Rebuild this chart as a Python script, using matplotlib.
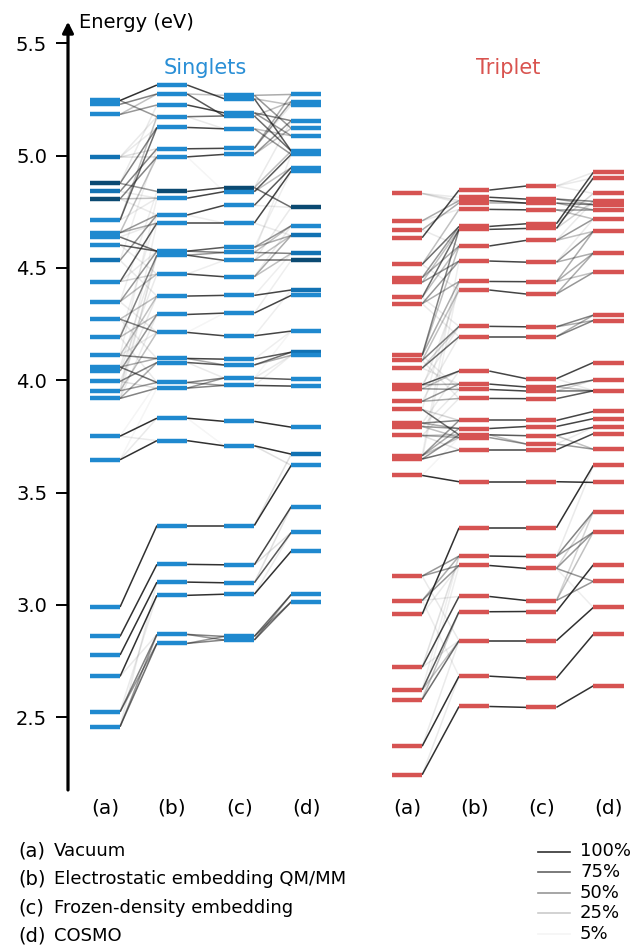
import matplotlib
matplotlib.use('Agg')
import matplotlib.pyplot as plt
from matplotlib.lines import Line2D

plt.rcParams['font.family'] = ['DejaVu Sans']

# ---------------- data ----------------
COLUMN_LABELS = ['(a)', '(b)', '(c)', '(d)']
METHOD_KEYS = ['(a)', '(b)', '(c)', '(d)']
METHOD_NAMES = ['Vacuum', 'Electrostatic embedding QM/MM',
                'Frozen-density embedding', 'COSMO']
WEIGHT_VALUES = [1.0, 0.75, 0.5, 0.25, 0.05]
WEIGHT_LABELS = ['100%', '75%', '50%', '25%', '5%']
Y_TICKS = [2.5, 3.0, 3.5, 4.0, 4.5, 5.0, 5.5]

# Singlet excitation energies (eV) per environment
S_A = [5.246, 5.229, 5.184, 4.994, 4.877, 4.841, 4.808, 4.713, 4.657, 4.638,
       4.602, 4.534, 4.439, 4.350, 4.272, 4.192, 4.111, 4.059, 4.041, 3.995,
       3.953, 3.919, 3.751, 3.646, 2.990, 2.859, 2.776, 2.681, 2.523, 2.457]
S_B = [5.315, 5.275, 5.226, 5.174, 5.126, 5.031, 4.995, 4.841, 4.811, 4.736,
       4.700, 4.575, 4.557, 4.473, 4.375, 4.293, 4.213, 4.097, 4.079, 3.990,
       3.965, 3.831, 3.731, 3.353, 3.180, 3.101, 3.042, 2.868, 2.828]
S_C = [5.269, 5.254, 5.191, 5.177, 5.120, 5.033, 5.006, 4.858, 4.840, 4.779,
       4.700, 4.592, 4.569, 4.534, 4.461, 4.378, 4.299, 4.198, 4.094, 4.068,
       4.010, 3.977, 3.817, 3.708, 3.353, 3.178, 3.098, 3.047, 2.859, 2.843]
S_D = [5.273, 5.241, 5.226, 5.156, 5.122, 5.089, 5.021, 5.006, 4.947, 4.932,
       4.770, 4.688, 4.645, 4.565, 4.534, 4.402, 4.378, 4.219, 4.125, 4.111,
       4.004, 3.974, 3.791, 3.671, 3.621, 3.437, 3.322, 3.239, 3.046, 3.013]

# Triplet excitation energies (eV) per environment
T_A = [4.832, 4.710, 4.670, 4.635, 4.516, 4.457, 4.436, 4.369, 4.341, 4.111,
       4.088, 4.054, 3.980, 3.962, 3.906, 3.870, 3.809, 3.794, 3.754, 3.664,
       3.649, 3.576, 3.128, 3.019, 2.958, 2.722, 2.621, 2.578, 2.370, 2.243]
T_B = [4.847, 4.815, 4.800, 4.790, 4.761, 4.685, 4.672, 4.598, 4.531, 4.440,
       4.402, 4.240, 4.194, 4.041, 3.983, 3.959, 3.919, 3.821, 3.785, 3.757,
       3.745, 3.690, 3.548, 3.343, 3.217, 3.175, 3.037, 2.969, 2.840, 2.682,
       2.547]
T_C = [4.865, 4.807, 4.789, 4.759, 4.697, 4.676, 4.623, 4.526, 4.439, 4.384,
       4.238, 4.194, 4.007, 3.970, 3.952, 3.918, 3.821, 3.794, 3.753, 3.716,
       3.690, 3.548, 3.343, 3.215, 3.162, 3.019, 2.970, 2.840, 2.673, 2.543]
T_D = [4.926, 4.901, 4.832, 4.797, 4.782, 4.759, 4.718, 4.663, 4.566, 4.480,
       4.290, 4.266, 4.079, 4.001, 3.953, 3.861, 3.829, 3.791, 3.762, 3.693,
       3.621, 3.545, 3.414, 3.324, 3.178, 3.104, 2.988, 2.868, 2.639]

# highlighted singlet states: (column index, energy)
S_NAVY = [(0, 4.877), (0, 4.808), (1, 4.841), (2, 4.858), (3, 4.770), (3, 4.534)]
S_MIDBLUE = [(0, 4.841), (0, 4.994), (0, 4.534), (3, 4.402), (3, 4.645),
             (3, 4.565), (3, 4.125), (3, 3.671)]

# state correspondences between neighbouring environments: (E_from, E_to, overlap)
S_AB = [(5.246, 5.315, 1.0), (5.246, 5.174, 0.5), (5.229, 5.275, 0.6),
        (5.184, 5.226, 0.5), (5.184, 5.275, 0.3), (4.994, 5.031, 0.15),
        (4.994, 4.995, 0.15), (4.877, 5.126, 0.6), (4.877, 4.841, 0.5),
        (4.841, 5.031, 0.6), (4.808, 4.995, 0.6), (4.808, 4.811, 0.3),
        (4.713, 5.126, 0.7), (4.713, 5.174, 0.3), (4.657, 4.736, 0.5),
        (4.657, 4.700, 0.4), (4.657, 4.995, 0.3), (4.638, 4.575, 0.7),
        (4.602, 4.575, 0.8), (4.534, 4.736, 0.5), (4.439, 4.700, 0.8),
        (4.439, 4.473, 0.2), (4.350, 4.575, 0.5), (4.350, 4.473, 0.3),
        (4.272, 4.213, 0.6), (4.272, 4.375, 0.3), (4.192, 4.557, 0.6),
        (4.192, 4.293, 0.3), (4.111, 4.097, 0.6), (4.111, 4.375, 0.3),
        (4.059, 3.990, 0.7), (4.059, 4.097, 0.4), (4.041, 4.293, 0.5),
        (3.995, 4.079, 0.6), (3.953, 3.990, 0.5), (3.953, 4.213, 0.3),
        (3.919, 3.965, 0.6), (3.919, 4.079, 0.4),
        (4.994, 5.174, 0.1), (4.994, 5.126, 0.1), (4.877, 5.226, 0.1),
        (4.841, 4.811, 0.1), (4.808, 4.736, 0.1), (4.713, 4.811, 0.1),
        (4.638, 4.700, 0.1), (4.602, 4.473, 0.1), (4.534, 4.375, 0.1),
        (4.439, 4.575, 0.1), (4.350, 4.213, 0.1), (4.272, 4.097, 0.1),
        (4.192, 3.990, 0.1), (4.111, 4.213, 0.1), (4.059, 4.557, 0.1),
        (4.041, 4.473, 0.1), (3.995, 4.375, 0.1), (3.953, 4.557, 0.1),
        (3.919, 4.293, 0.1), (3.995, 3.965, 0.15), (4.534, 5.031, 0.08),
        (4.350, 4.841, 0.08), (4.192, 4.736, 0.08), (3.919, 4.575, 0.08),
        (3.953, 4.700, 0.08), (4.111, 4.811, 0.08), (3.751, 3.990, 0.05),
        (3.646, 3.965, 0.05),
        (3.751, 3.831, 1.0), (3.751, 3.731, 0.1), (3.646, 3.731, 1.0),
        (3.646, 3.831, 0.1), (2.990, 3.353, 1.0), (2.859, 3.180, 1.0),
        (2.776, 3.101, 1.0), (2.681, 3.042, 1.0), (2.681, 2.868, 0.1),
        (2.523, 2.868, 0.6), (2.523, 2.828, 0.5), (2.523, 3.042, 0.1),
        (2.457, 2.828, 0.7), (2.457, 2.868, 0.5), (2.457, 3.101, 0.1)]
S_BC = [(5.315, 5.254, 0.9), (5.275, 5.177, 0.8), (5.275, 5.269, 0.3),
        (5.226, 5.191, 0.9), (5.174, 5.177, 0.7), (5.126, 5.120, 0.9),
        (5.031, 5.033, 0.9), (4.995, 5.006, 0.9), (4.841, 4.858, 0.9),
        (4.811, 4.840, 0.9), (4.736, 4.779, 0.9), (4.700, 4.700, 0.9),
        (4.575, 4.592, 0.8), (4.575, 4.569, 0.6), (4.557, 4.534, 0.8),
        (4.557, 4.569, 0.5), (4.473, 4.461, 0.9), (4.375, 4.378, 0.9),
        (4.293, 4.299, 0.9), (4.213, 4.198, 0.9), (4.097, 4.094, 0.9),
        (4.097, 4.068, 0.4), (4.079, 4.068, 0.8), (3.990, 4.010, 0.6),
        (3.990, 3.977, 0.5), (3.965, 4.010, 0.5), (3.965, 3.977, 0.6),
        (5.174, 5.120, 0.1), (4.995, 4.840, 0.05), (4.736, 4.700, 0.08),
        (4.473, 4.534, 0.08), (4.213, 4.299, 0.05), (4.079, 4.010, 0.1),
        (3.831, 3.817, 1.0), (3.731, 3.708, 1.0), (3.353, 3.353, 1.0),
        (3.180, 3.178, 1.0), (3.101, 3.098, 1.0), (3.042, 3.047, 1.0),
        (2.868, 2.859, 0.6), (2.868, 2.843, 0.5), (2.828, 2.843, 0.6),
        (2.828, 2.859, 0.5), (3.831, 3.708, 0.05)]
S_CD = [(5.269, 5.273, 0.4), (5.269, 5.122, 0.5), (5.254, 5.021, 0.8),
        (5.254, 5.226, 0.3), (5.191, 5.156, 0.6), (5.191, 5.089, 0.5),
        (5.177, 5.021, 0.7), (5.177, 5.241, 0.3), (5.120, 5.006, 0.5),
        (5.120, 5.089, 0.3), (5.033, 5.241, 0.5), (5.033, 5.273, 0.4),
        (5.006, 5.156, 0.5), (5.006, 5.122, 0.3), (4.858, 4.770, 0.7),
        (4.858, 5.021, 0.3), (4.840, 5.006, 0.8), (4.840, 4.947, 0.3),
        (4.779, 4.947, 0.8), (4.700, 4.932, 0.9), (4.592, 4.688, 0.5),
        (4.592, 4.645, 0.4), (4.569, 4.565, 0.6), (4.569, 4.688, 0.3),
        (4.534, 4.534, 0.7), (4.534, 4.645, 0.3), (4.461, 4.645, 0.4),
        (4.461, 4.565, 0.3), (4.378, 4.402, 0.9), (4.299, 4.378, 0.9),
        (4.198, 4.219, 0.9), (4.094, 4.125, 0.8), (4.068, 4.125, 0.7),
        (4.068, 4.111, 0.4), (4.010, 4.004, 0.8), (3.977, 3.974, 0.9),
        (4.010, 4.111, 0.1),
        (4.779, 4.770, 0.1), (4.700, 4.645, 0.1), (4.461, 4.688, 0.1),
        (4.378, 4.565, 0.08), (4.299, 4.534, 0.08), (4.198, 4.402, 0.08),
        (4.094, 4.219, 0.08), (4.534, 4.770, 0.1), (4.592, 4.932, 0.08),
        (4.569, 5.006, 0.08), (4.858, 5.156, 0.1), (5.033, 5.226, 0.1),
        (4.010, 4.219, 0.05), (3.977, 4.111, 0.08),
        (3.817, 3.791, 1.0), (3.708, 3.671, 1.0), (3.708, 3.621, 0.15),
        (3.353, 3.621, 1.0), (3.353, 3.671, 0.15), (3.178, 3.437, 0.9),
        (3.178, 3.322, 0.15), (3.098, 3.322, 0.8), (3.098, 3.437, 0.15),
        (3.047, 3.239, 1.0), (3.047, 3.322, 0.1), (2.859, 3.046, 0.7),
        (2.859, 3.013, 0.5), (2.843, 3.013, 0.7), (2.843, 3.046, 0.5)]

T_AB = [(4.832, 4.800, 0.15), (4.832, 4.815, 0.1), (4.710, 4.800, 0.4),
        (4.670, 4.790, 0.4), (4.635, 4.847, 0.9), (4.516, 4.685, 0.7),
        (4.516, 4.761, 0.3), (4.457, 4.685, 0.5), (4.457, 4.598, 0.4),
        (4.436, 4.531, 0.5), (4.436, 4.672, 0.3), (4.369, 4.672, 0.7),
        (4.369, 4.598, 0.3), (4.341, 4.531, 0.5), (4.341, 4.440, 0.4),
        (4.111, 4.672, 0.6), (4.111, 4.440, 0.4), (4.111, 4.598, 0.3),
        (4.088, 4.240, 0.6), (4.088, 4.402, 0.3), (4.054, 4.194, 0.7),
        (4.054, 4.240, 0.2), (3.980, 4.041, 0.8), (3.980, 3.983, 0.4),
        (3.962, 3.959, 0.5), (3.962, 4.041, 0.3), (3.906, 3.983, 0.5),
        (3.906, 3.919, 0.4), (3.870, 3.757, 0.7), (3.870, 3.821, 0.2),
        (3.809, 3.821, 0.6), (3.809, 3.785, 0.4), (3.794, 3.785, 0.5),
        (3.794, 3.745, 0.3), (3.754, 3.745, 0.4), (3.754, 3.757, 0.3),
        (3.664, 3.821, 0.5), (3.664, 3.785, 0.4), (3.649, 3.757, 0.5),
        (3.649, 3.690, 0.7), (3.576, 3.548, 1.0),
        (4.832, 4.790, 0.1), (4.710, 4.761, 0.1), (4.670, 4.598, 0.1),
        (4.516, 4.402, 0.1), (4.369, 4.240, 0.1), (4.341, 4.194, 0.1),
        (4.111, 3.959, 0.1), (4.088, 3.919, 0.1), (4.054, 3.983, 0.1),
        (3.980, 4.240, 0.1), (3.962, 4.402, 0.1), (3.906, 4.194, 0.1),
        (3.870, 4.440, 0.08), (3.809, 4.041, 0.1), (3.794, 3.959, 0.1),
        (3.754, 3.919, 0.1), (3.664, 4.531, 0.08), (3.649, 4.440, 0.08),
        (3.576, 3.745, 0.05), (3.754, 3.690, 0.15), (3.664, 3.745, 0.3),
        (3.128, 3.217, 0.5), (3.128, 3.175, 0.5), (3.019, 3.175, 0.5),
        (3.019, 3.217, 0.4), (3.019, 3.037, 0.1), (2.958, 3.343, 1.0),
        (2.722, 3.037, 0.9), (2.722, 3.217, 0.15), (2.621, 2.969, 0.8),
        (2.621, 2.840, 0.3), (2.578, 2.840, 0.7), (2.578, 2.969, 0.3),
        (2.370, 2.682, 1.0), (2.243, 2.547, 1.0), (2.370, 2.840, 0.1),
        (2.243, 2.682, 0.1), (3.128, 2.840, 0.1), (3.019, 2.682, 0.08),
        (2.958, 3.175, 0.1), (2.722, 2.840, 0.1), (2.578, 3.175, 0.08),
        (2.621, 3.217, 0.08)]
T_BC = [(4.847, 4.865, 0.9), (4.815, 4.807, 0.9), (4.800, 4.789, 0.9),
        (4.790, 4.789, 0.4), (4.761, 4.759, 0.9), (4.685, 4.697, 0.9),
        (4.672, 4.676, 0.9), (4.598, 4.623, 0.9), (4.531, 4.526, 0.9),
        (4.440, 4.439, 0.9), (4.402, 4.384, 0.9), (4.240, 4.238, 0.9),
        (4.194, 4.194, 0.9), (4.041, 4.007, 0.9), (3.983, 3.970, 0.9),
        (3.959, 3.952, 0.9), (3.919, 3.918, 0.9), (3.821, 3.821, 0.9),
        (3.785, 3.794, 0.9), (3.757, 3.753, 0.8), (3.745, 3.716, 0.5),
        (3.757, 3.716, 0.3), (3.690, 3.690, 0.9), (3.548, 3.548, 1.0),
        (3.343, 3.343, 1.0), (3.217, 3.215, 1.0), (3.175, 3.162, 1.0),
        (3.037, 3.019, 1.0), (2.969, 2.970, 1.0), (2.840, 2.840, 1.0),
        (2.682, 2.673, 1.0), (2.547, 2.543, 1.0)]
T_CD = [(4.865, 4.926, 0.1), (4.865, 4.832, 0.1), (4.807, 4.797, 0.6),
        (4.807, 4.782, 0.4), (4.789, 4.782, 0.6), (4.789, 4.759, 0.4),
        (4.759, 4.759, 0.5), (4.759, 4.718, 0.3), (4.697, 4.926, 0.9),
        (4.676, 4.901, 0.9), (4.697, 4.832, 0.2), (4.676, 4.797, 0.2),
        (4.623, 4.718, 0.5), (4.623, 4.663, 0.3), (4.526, 4.663, 0.5),
        (4.526, 4.566, 0.4), (4.439, 4.663, 0.4), (4.439, 4.566, 0.4),
        (4.439, 4.480, 0.3), (4.384, 4.566, 0.4), (4.384, 4.480, 0.5),
        (4.238, 4.290, 0.6), (4.238, 4.266, 0.4), (4.194, 4.266, 0.6),
        (4.194, 4.290, 0.4), (4.007, 4.079, 0.9), (3.970, 4.001, 0.7),
        (3.952, 3.953, 0.7), (3.970, 3.953, 0.3), (3.918, 3.953, 0.8),
        (3.821, 3.861, 0.9), (3.794, 3.829, 0.9), (3.753, 3.791, 0.9),
        (3.690, 3.762, 0.9), (3.716, 3.693, 0.5), (3.753, 3.693, 0.3),
        (4.623, 4.797, 0.1), (4.526, 4.718, 0.1), (4.865, 4.901, 0.1),
        (4.007, 3.953, 0.1), (3.952, 4.001, 0.2), (3.716, 3.791, 0.1),
        (3.548, 3.545, 1.0), (3.343, 3.621, 1.0), (3.215, 3.414, 0.6),
        (3.215, 3.324, 0.5), (3.162, 3.324, 0.5), (3.162, 3.104, 0.5),
        (3.162, 3.414, 0.2), (3.019, 3.104, 0.5), (3.019, 3.324, 0.3),
        (3.019, 3.414, 0.2), (2.970, 3.178, 1.0), (2.840, 2.988, 1.0),
        (2.673, 2.868, 1.0), (2.543, 2.639, 1.0), (3.162, 2.988, 0.08),
        (3.215, 3.621, 0.1)]

# ---------------- style ----------------
SING_COLOR = '#1f89cf'
SING_MID = '#1272b3'
SING_DARK = '#0b4a72'
TRIP_COLOR = '#d65352'
LINE_COLOR = '#1a1a1a'
SING_X = [0.0, 1.0, 2.0, 3.0]
TRIP_X = [4.5, 5.5, 6.5, 7.5]
HALF = 0.225
FS = 14
LEG_FS = 13

W, H = 642, 949
fig = plt.figure(figsize=(W / 100, H / 100), dpi=100)
ax = fig.add_axes([68 / W, (H - 790) / H, (W - 68) / W, 760 / H])
ax.set_xlim(-0.55, 8.0)
ax.set_ylim(2.175, 5.56)


def nearest(levels, e):
    return min(levels, key=lambda v: abs(v - e))


def draw_group(xs, cols, links, colfun):
    for k, pairs in enumerate(links):
        for e1, e2, w in pairs:
            y1 = nearest(cols[k], e1)
            y2 = nearest(cols[k + 1], e2)
            ax.plot([xs[k] + HALF, xs[k + 1] - HALF], [y1, y2],
                    color=LINE_COLOR, alpha=min(w, 1.0) * 0.9, lw=1.1,
                    zorder=1, solid_capstyle='butt')
    for k, lv in enumerate(cols):
        colors = [colfun(k, e) for e in lv]
        ax.hlines(lv, xs[k] - HALF, xs[k] + HALF, colors=colors, lw=3.2,
                  zorder=3)


def sing_color(k, e):
    if (k, e) in S_NAVY:
        return SING_DARK
    if (k, e) in S_MIDBLUE:
        return SING_MID
    return SING_COLOR


draw_group(SING_X, [S_A, S_B, S_C, S_D], [S_AB, S_BC, S_CD], sing_color)
draw_group(TRIP_X, [T_A, T_B, T_C, T_D], [T_AB, T_BC, T_CD],
           lambda k, e: TRIP_COLOR)

ax.text(1.5, 5.392, 'Singlets', color='#2a8fd6', fontsize=15,
        ha='center', va='center')
ax.text(6.0, 5.392, 'Triplet', color='#d9534f', fontsize=15,
        ha='center', va='center')

# axes styling
for s in ['top', 'right', 'bottom', 'left']:
    ax.spines[s].set_visible(False)
ax.annotate('', xy=(0, 1.011), xytext=(0, 0), xycoords='axes fraction',
            textcoords='axes fraction',
            arrowprops=dict(arrowstyle='-|>', lw=2.3, color='k',
                            mutation_scale=16, shrinkA=0, shrinkB=0))
ax.set_yticks(Y_TICKS)
ax.set_yticklabels([f'{t:.1f}' for t in Y_TICKS], fontsize=FS)
ax.tick_params(axis='y', direction='out', length=9, width=1.4, pad=6)
ax.set_xticks(SING_X + TRIP_X)
ax.set_xticklabels(COLUMN_LABELS * 2, fontsize=14.5)
ax.tick_params(axis='x', length=0, pad=6)

fig.text(79 / W, 1 - 28.3 / H, 'Energy (eV)', fontsize=FS,
         ha='left', va='baseline')

# method legend
for i, (key, name) in enumerate(zip(METHOD_KEYS, METHOD_NAMES)):
    yy = 1 - (851 + 28.3 * i) / H
    fig.text(18 / W, yy, key, fontsize=FS, ha='left', va='center')
    fig.text(54 / W, yy, name, fontsize=LEG_FS, ha='left', va='center')

# overlap legend
for i, (w, lab) in enumerate(zip(WEIGHT_VALUES, WEIGHT_LABELS)):
    yy = 1 - (851.5 + 20.6 * i) / H
    fig.add_artist(Line2D([538 / W, 570 / W], [yy, yy], color=LINE_COLOR,
                          alpha=w * 0.9, lw=1.2, transform=fig.transFigure))
    fig.text(580 / W, yy, lab, fontsize=LEG_FS, ha='left', va='center')

fig.savefig('out.png', dpi=100)
